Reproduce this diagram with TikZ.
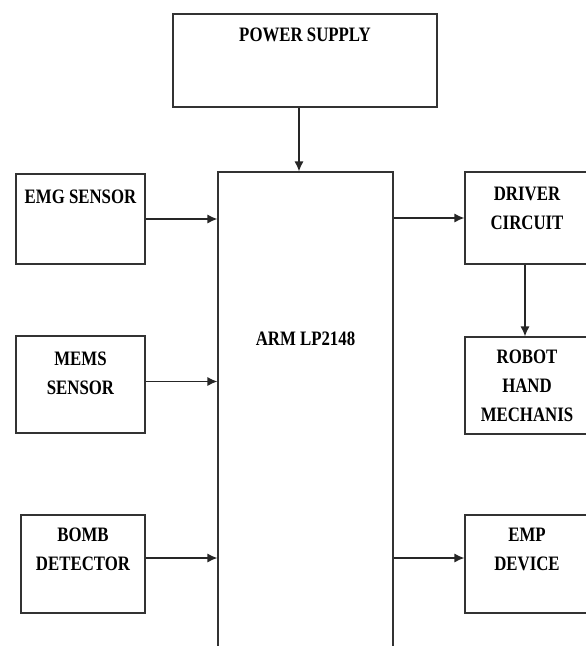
\documentclass[tikz,border=0pt]{standalone}
\usepackage{fontspec}
\setmainfont[FakeStretch=0.82]{Liberation Serif}
\usetikzlibrary{positioning,arrows.meta}

\begin{document}
\begin{tikzpicture}[x=1pt,y=-1pt]
    \tikzstyle{block}=[
        draw=black!80,
        line width=1.2pt,
        shape=rectangle,
        inner sep=0pt]
    \tikzstyle{lbl}=[
        inner sep=0pt,
        align=center,
        font=\fontsize{20.5}{29}\selectfont\bfseries]
    \tikzstyle{link}=[draw=black!85, line width=1.2pt, -{Latex[length=10pt,width=9pt]}]

    \useasboundingbox (0,0) rectangle (586,646);
    \node[block] [minimum width=264pt, minimum height=93pt] (power) at (305,60.5) {};
    \node[block] [minimum width=175pt, minimum height=490pt] (arm) at (305.5,417) {};
    \node[block] [minimum width=129pt, minimum height=90pt] (emg) at (80.5,219) {};
    \node[block] [minimum width=129pt, minimum height=97pt] (mems) at (80.5,384.5) {};
    \node[block] [minimum width=124pt, minimum height=98pt] (bomb) at (83,564) {};
    \node[block] [minimum width=124pt, minimum height=92pt] (driver) at (527,218) {};
    \node[block] [minimum width=124pt, minimum height=97pt] (robot) at (527,385.5) {};
    \node[block] [minimum width=124pt, minimum height=98pt] (emp) at (527,564) {};

    \node[lbl] [below=14pt of power.north] {POWER SUPPLY};
    \node[lbl] at (305.5,338.5) {ARM LP2148};
    \node[lbl] [below=16pt of emg.north] {EMG SENSOR};
    \node[lbl] [below=16pt of mems.north] {MEMS\\SENSOR};
    \node[lbl] [below=13pt of bomb.north] {BOMB\\DETECTOR};
    \node[lbl] [below=15pt of driver.north] {DRIVER\\CIRCUIT};
    \node[lbl] [below=13pt of robot.north] {ROBOT\\HAND\\MECHANIS};
    \node[lbl] [below=13pt of emp.north] {EMP\\DEVICE};

    \draw[link] ([xshift=-6pt]power.south) -- ([xshift=-6pt]power.south |- arm.north);
    \draw[link] (emg.east) -- (emg.east -| arm.west);
    \draw[link] ([yshift=3pt]mems.east) -- ([yshift=3pt]mems.east -| arm.west);
    \draw[link] ([yshift=6pt]bomb.east) -- ([yshift=6pt]bomb.east -| arm.west);
    \draw[link] (driver.west -| arm.east) -- (driver.west);
    \draw[link] ([xshift=-2pt]driver.south) -- ([xshift=-2pt]robot.north);
    \draw[link] ([yshift=6pt]emp.west -| arm.east) -- ([yshift=6pt]emp.west);
\end{tikzpicture}
\end{document}
